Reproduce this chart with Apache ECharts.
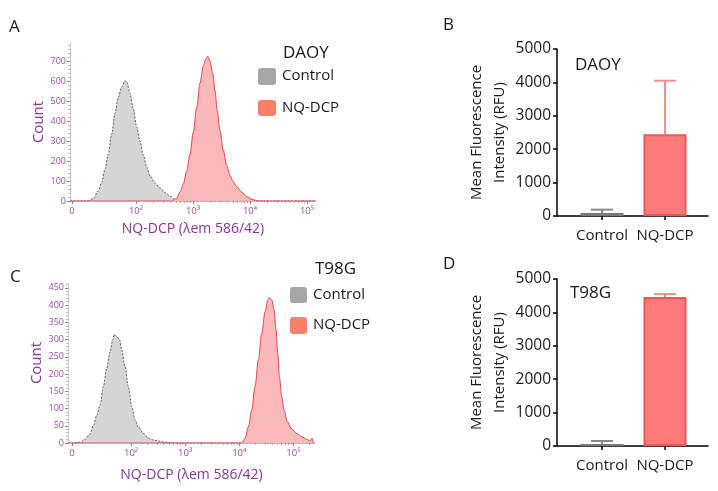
<!DOCTYPE html>
<html><head><meta charset="utf-8">
<script src="https://cdn.jsdelivr.net/npm/echarts@6/dist/echarts.min.js"></script>
<style>html,body{margin:0;padding:0;background:#fff}#c{width:718px;height:491px}</style>
</head><body><div id="c"></div>
<script>
// ---------- DATA ----------
// Flow histograms: x = position on biexponential display scale (decades), y = count
const daoyCtrlU = [0.842, 1.105, 1.163, 1.251, 1.339, 1.398, 1.456, 1.514, 1.574, 1.632, 1.689, 1.749, 1.807, 1.837, 1.895, 1.953, 2.012, 2.070, 2.128, 2.188, 2.246, 2.333, 2.421, 2.509, 2.596, 2.684, 2.772, 5.158];
const daoyCtrlN = [0, 0, 2, 12, 50, 95, 160, 235, 335, 440, 520, 570, 602, 595, 540, 460, 370, 300, 230, 170, 125, 90, 65, 42, 25, 8, 0, 0];
const daoyNqU = [0.842, 2.55, 2.626, 2.714, 2.772, 2.830, 2.889, 2.947, 3.005, 3.065, 3.123, 3.181, 3.228, 3.258, 3.298, 3.346, 3.386, 3.426, 3.474, 3.532, 3.591, 3.649, 3.707, 3.767, 3.854, 3.942, 4.058, 4.175, 5.158];
const daoyNqN = [0, 0, 0, 15, 45, 85, 150, 235, 345, 470, 590, 675, 712, 724, 700, 640, 550, 450, 350, 255, 178, 128, 97, 72, 45, 22, 6, 0, 0];
const t98CtrlU = [0.835, 0.904, 1.057, 1.150, 1.242, 1.303, 1.366, 1.427, 1.488, 1.551, 1.612, 1.662, 1.691, 1.736, 1.784, 1.828, 1.889, 1.950, 2.013, 2.074, 2.135, 2.227, 2.320, 2.412, 2.505, 2.597, 2.721, 2.906, 5.40];
const t98CtrlN = [0, 0, 2, 11, 26, 51, 80, 110, 164, 217, 265, 299, 315, 309, 301, 270, 222, 164, 106, 67, 47, 28, 14, 9, 6, 3, 1, 0, 0];
const t98NqU = [0.835, 3.983, 4.046, 4.107, 4.168, 4.231, 4.292, 4.353, 4.416, 4.477, 4.527, 4.556, 4.601, 4.643, 4.680, 4.712, 4.741, 4.786, 4.828, 4.889, 4.970, 5.063, 5.155, 5.248, 5.309, 5.341, 5.370];
const t98NqN = [0, 0, 1, 13, 47, 96, 164, 241, 318, 381, 415, 422, 415, 386, 328, 260, 193, 134, 96, 62, 40, 28, 18, 11, 6, 14, 0];

const xTickLabels = ['0', '10\u00b2', '10\u00b3', '10\u2074', '10\u2075'];
const xTickPosA = [0.877, 2, 3, 4, 5];
const xTickPosC = [0.909, 2, 3, 4, 5];
const yTicksA = [0, 100, 200, 300, 400, 500, 600, 700];
const yTicksC = [0, 50, 100, 150, 200, 250, 300, 350, 400, 450];

// Bar charts
const barCategories = ['Control', 'NQ-DCP'];
const daoyMean = [90, 2450];
const daoyErr = [100, 1600];
const t98Mean = [60, 4460];
const t98Err = [90, 90];
const barTicks = [0, 1];

const legendNames = ['Control', 'NQ-DCP'];
// ---------- END DATA ----------

const F = "'Open Sans', 'Liberation Sans', sans-serif";
const PURPLE = '#8b3598';
const PURPLE_L = '#a04cae';
const INK = '#1a1a1a';

function zip(a, b) { return a.map((v, i) => [v, b[i]]); }
function minorLog(maxU) {
  const out = [];
  for (let k = 2; k <= 5; k++) for (let m = 2; m <= 9; m++) {
    const u = k + Math.log10(m);
    if (u < maxU) out.push(u);
  }
  return out;
}
function histX(grid, min, max, ticks, gap) {
  return [{
    gridIndex: grid, type: 'value', min: min, max: max, position: 'bottom',
    axisLine: { onZero: false, lineStyle: { color: '#c8c8c8', width: 1 } },
    splitLine: { show: false },
    axisTick: { customValues: ticks, length: 3, lineStyle: { color: '#9a7aa8' } },
    axisLabel: {
      customValues: ticks, color: PURPLE_L, fontSize: 9.5, fontFamily: F, margin: 5,
      formatter: function (v) {
        let best = 0;
        ticks.forEach((t, i) => { if (Math.abs(t - v) < Math.abs(ticks[best] - v)) best = i; });
        return xTickLabels[best];
      }
    },
    name: 'NQ-DCP (\u03bbem 586/42)', nameLocation: 'middle', nameGap: gap,
    nameTextStyle: { color: PURPLE, fontSize: 14, fontFamily: F }
  }, {
    gridIndex: grid, type: 'value', min: min, max: max, position: 'bottom',
    axisLine: { show: false, onZero: false }, axisLabel: { show: false }, splitLine: { show: false },
    axisTick: { customValues: minorLog(max), length: 2, lineStyle: { color: '#b9a6c0' } }
  }];
}
function histY(grid, max, interval, ticks) {
  return {
    gridIndex: grid, type: 'value', min: 0, max: max, interval: interval,
    axisLine: { show: true, onZero: false, lineStyle: { color: '#c8c8c8' } },
    axisTick: { show: true, customValues: ticks, length: 3, lineStyle: { color: '#9a7aa8' } },
    minorTick: { show: true, splitNumber: 5, length: 2, lineStyle: { color: '#bdbdbd' } },
    axisLabel: { customValues: ticks, color: PURPLE_L, fontSize: 9, fontFamily: F, margin: 4 },
    splitLine: { show: false },
    name: 'Count', nameLocation: 'middle', nameGap: 24,
    nameTextStyle: { color: PURPLE, fontSize: 15, fontFamily: F }
  };
}
function barX(grid) {
  return {
    gridIndex: grid, type: 'value', min: -0.714, max: 1.683,
    axisLine: { onZero: false, lineStyle: { color: '#000', width: 1.5 } },
    axisTick: { customValues: barTicks, length: 4, lineStyle: { color: '#000', width: 1.5 } },
    axisLabel: { customValues: barTicks, formatter: v => barCategories[Math.round(v)], color: INK, fontSize: 15, fontFamily: F, margin: 12 },
    splitLine: { show: false }
  };
}
function barY(grid) {
  return {
    gridIndex: grid, type: 'value', min: 0, max: 5000, interval: 1000,
    axisLine: { show: true, onZero: false, lineStyle: { color: '#000', width: 1.5 } },
    axisTick: { show: true, length: 4, lineStyle: { color: '#000', width: 1.5 } },
    axisLabel: { color: INK, fontSize: 15.5, fontFamily: F, margin: 6, formatter: v => String(v) },
    splitLine: { show: false },
    name: 'Mean Fluorescence\nIntensity (RFU)', nameLocation: 'middle', nameGap: 45,
    nameTextStyle: { color: INK, fontSize: 15, fontFamily: F, lineHeight: 23 }
  };
}
const ctrlLine = { color: '#5a5a5a', width: 1, type: [2, 1.5] };
const ctrlArea = { color: '#d5d5d5', opacity: 1 };
const nqLine = { color: '#e8464b', width: 1 };
const nqArea = { color: '#fbb3b3', opacity: 0.92 };
function histSeries(xi, yi, u, n, line, area, z) {
  return { type: 'line', xAxisIndex: xi, yAxisIndex: yi, data: zip(u, n), smooth: 0.3, smoothMonotone: 'x',
    symbol: 'none', lineStyle: line, areaStyle: area, z: z, silent: true };
}
const barStyles = [
  { color: '#999999', borderColor: '#7a7a7a', borderWidth: 1.5 },
  { color: '#ff7b7b', borderColor: '#f05656', borderWidth: 2 }
];
const errColors = ['#888888', '#f29090'];
function barSeries(xi, yi, mean) {
  return { type: 'bar', xAxisIndex: xi, yAxisIndex: yi, barWidth: 43,
    data: barCategories.map((c, i) => ({ value: [barTicks[i], mean[i]], itemStyle: barStyles[i] })), z: 2 };
}
function errSeries(xi, yi, mean, err) {
  return { type: 'custom', xAxisIndex: xi, yAxisIndex: yi, z: 3,
    data: barCategories.map((c, i) => [barTicks[i], mean[i], err[i]]),
    renderItem: function (params, api) {
      const i = params.dataIndex;
      const p0 = api.coord([api.value(0), api.value(1)]);
      const p1 = api.coord([api.value(0), api.value(1) + api.value(2)]);
      const st = { stroke: errColors[i], lineWidth: 2 };
      return { type: 'group', children: [
        { type: 'line', shape: { x1: p0[0], y1: p0[1], x2: p1[0], y2: p1[1] }, style: st },
        { type: 'line', shape: { x1: p1[0] - 11, y1: p1[1], x2: p1[0] + 11, y2: p1[1] }, style: st }
      ] };
    } };
}
function txt(x, y, s, size, color) {
  return { type: 'text', x: x, y: y, style: { text: s, fontSize: size, fontFamily: F, fill: color || INK, verticalAlign: 'middle' } };
}
function sq(x, y, w, h, color) {
  return { type: 'rect', shape: { x: x, y: y, width: w, height: h, r: 3 }, style: { fill: color } };
}
const legendColors = ['#a6a6a6', '#f98068'];

const xa = histX(0, 0.842, 5.158, xTickPosA, 21);
const xc = histX(2, 0.835, 5.40, xTickPosC, 25);
const option = {
  animation: false,
  backgroundColor: '#fff',
  grid: [
    { left: 70, top: 43, width: 246, height: 158 },
    { left: 557, top: 49, width: 151, height: 167 },
    { left: 68, top: 283, width: 247, height: 160 },
    { left: 557, top: 279, width: 151, height: 167 }
  ],
  xAxis: [xa[0], xa[1], barX(1), xc[0], xc[1], barX(3)],
  yAxis: [histY(0, 790, 100, yTicksA), barY(1), histY(2, 464, 50, yTicksC), barY(3)],
  series: [
    histSeries(0, 0, daoyCtrlU, daoyCtrlN, ctrlLine, ctrlArea, 2),
    histSeries(0, 0, daoyNqU, daoyNqN, nqLine, nqArea, 3),
    barSeries(2, 1, daoyMean), errSeries(2, 1, daoyMean, daoyErr),
    histSeries(3, 2, t98CtrlU, t98CtrlN, ctrlLine, ctrlArea, 2),
    histSeries(3, 2, t98NqU, t98NqN, nqLine, nqArea, 3),
    barSeries(5, 3, t98Mean), errSeries(5, 3, t98Mean, t98Err)
  ],
  graphic: [
    txt(9, 27, 'A', 17), txt(443, 25, 'B', 17), txt(10, 277, 'C', 17), txt(443, 264, 'D', 17),
    txt(283, 53, 'DAOY', 17), txt(315, 269, 'T98G', 17),
    sq(258, 68, 18, 17, legendColors[0]), txt(282, 76, legendNames[0], 15),
    sq(258, 100, 18, 16, legendColors[1]), txt(282, 108, legendNames[1], 15),
    sq(290, 287, 17, 16, legendColors[0]), txt(313, 295, legendNames[0], 15),
    sq(290, 317, 17, 17, legendColors[1]), txt(313, 325, legendNames[1], 15),
    txt(575, 65, 'DAOY', 17), txt(570, 293, 'T98G', 17)
  ]
};
const chart = echarts.init(document.getElementById('c'), null, { renderer: 'canvas' });
chart.setOption(option);
</script></body></html>
